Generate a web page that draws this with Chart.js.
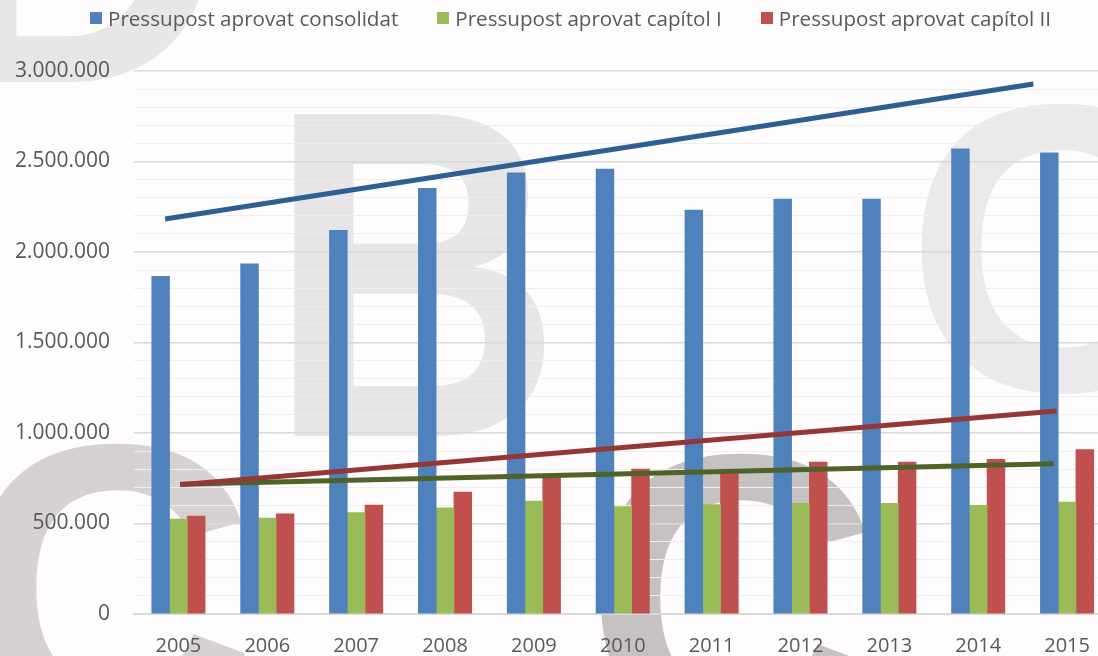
<!DOCTYPE html>
<html>
<head>
<meta charset="utf-8">
<script src="https://cdn.jsdelivr.net/npm/chart.js@4/dist/chart.umd.min.js"></script>
<style>
  html, body { margin: 0; padding: 0; background: #fefcfc; overflow: hidden; }
  #wrap { width: 1098px; height: 656px; overflow: hidden; position: relative; }
  #box { width: 1120px; height: 656px; position: absolute; left: 0; top: 0; }
  #legend { position: absolute; left: 90px; top: 0; height: 36px; display: flex; align-items: center;
            font-family: "Open Sans", "Noto Sans", sans-serif; font-size: 20.6px; color: #595959; white-space: nowrap; }
  .item { display: flex; align-items: center; margin-right: 39px; }
  .sw { width: 12px; height: 12px; margin-right: 6px; }
</style>
</head>
<body>
<div id="wrap">
  <div id="box"><canvas id="budgetChart"></canvas></div>
  <div id="legend"></div>
</div>
<script>
const years = ['2005', '2006', '2007', '2008', '2009', '2010', '2011', '2012', '2013', '2014', '2015'];

const consolidat = [1865000, 1935000, 2120000, 2352000, 2437000, 2458000, 2232000, 2293000, 2293000, 2570000, 2548000];
const capitolI  = [525000, 530000, 560000, 586000, 624000, 594000, 604000, 612000, 612000, 601000, 619000];
const capitolII = [541000, 554000, 602000, 674000, 762000, 801000, 790000, 840000, 840000, 855000, 908000];

// hand-drawn trend lines (x in category index units)
const trendBlueX = [-0.15, 9.62];
const trendBlueY = [2182000, 2928000];
const trendRedX = [0.02, 9.88];
const trendRedY = [714000, 1121000];
const trendGreenX = [0.02, 9.85];
const trendGreenY = [717000, 830000];

const seriesNames = ['Pressupost aprovat consolidat', 'Pressupost aprovat capítol I', 'Pressupost aprovat capítol II'];
const seriesColors = ['#4f81bd', '#9bbb59', '#c0504d'];

const yTicks = { min: 0, max: 3000000, step: 100000, labelStep: 500000 };

const textColor = '#595959';
const fontFamily = '"Open Sans", "Noto Sans", sans-serif';

// each bar series sits on its own hidden index axis, shifted by one bar width
const barShare = 0.2;   // one bar = 0.2 of a category
const barPx = 17.8;

function toPoints(xs, ys) {
    return xs.map((x, i) => ({ x: x, y: ys[i] }));
}

function indexed(values) {
    return values.map((v, i) => ({ x: i, y: v }));
}

function fmt(v) {
    return v.toString().replace(/\B(?=(\d{3})+(?!\d))/g, '.');
}

// legend as html
const legendBox = document.getElementById('legend');
seriesNames.forEach((name, i) => {
    const div = document.createElement('div');
    div.className = 'item';
    div.innerHTML = `<span class="sw" style="background:${seriesColors[i]}"></span><span>${name}</span>`;
    legendBox.appendChild(div);
});

// grey letters in the background
const watermark = {
    id: 'watermark',
    beforeDraw(chart) {
        const c = chart.ctx;
        c.save();
        c.fillStyle = '#fefcfc';
        c.fillRect(0, 0, chart.width, chart.height);
        c.textBaseline = 'alphabetic';

        c.save();
        c.translate(267, 436);
        c.scale(0.875, 1);
        c.font = 'bold 468px "Liberation Sans"';
        c.fillStyle = '#e7e5e5';
        c.fillText('B', 0, 0);
        c.restore();

        c.font = 'bold 410px "Liberation Sans"';
        c.fillStyle = '#ebe9e9';
        c.fillText('C', 905, 390);
        c.fillStyle = '#e8e6e6';
        c.fillText('D', -70, 82);
        c.fillStyle = '#d6d2d2';
        c.fillText('C', -40, 730);
        c.fillStyle = '#c6c2c2';
        c.fillText('C', 584, 740);
        c.restore();
    }
};

function barSeries(i, values) {
    return {
        type: 'bar', label: seriesNames[i], data: indexed(values), xAxisID: 'xb' + i,
        backgroundColor: seriesColors[i], grouped: false, barThickness: barPx, order: 2
    };
}

function trendLine(name, xs, ys, color) {
    return {
        type: 'line', label: name, data: toPoints(xs, ys), xAxisID: 'xl',
        borderColor: color, borderWidth: 5, pointRadius: 0, order: 1
    };
}

function hiddenAxis(shift) {
    return { type: 'linear', display: false, offset: false, min: -0.5 - shift, max: years.length - 0.5 - shift };
}

const ctx = document.getElementById('budgetChart').getContext('2d');
const budgetChart = new Chart(ctx, {
    data: {
        labels: years,
        datasets: [
            barSeries(0, consolidat),
            barSeries(1, capitolI),
            barSeries(2, capitolII),
            trendLine('trend1', trendBlueX, trendBlueY, '#2e5f94'),
            trendLine('trend2', trendRedX, trendRedY, '#953735'),
            trendLine('trend3', trendGreenX, trendGreenY, '#4f6228')
        ]
    },
    options: {
        responsive: true,
        maintainAspectRatio: false,
        animation: false,
        layout: { padding: { top: 71, right: 8.5, bottom: 0, left: 0 } },
        plugins: {
            tooltip: { enabled: false },
            legend: { display: false }
        },
        scales: {
            x: {
                type: 'category',
                offset: true,
                grid: { display: false },
                border: { display: true, color: '#d9d9d9', width: 2 },
                ticks: { color: textColor, font: { family: fontFamily, size: 20 }, padding: 12 },
                afterFit: s => { s.height = 42; }
            },
            xb0: hiddenAxis(-barShare),
            xb1: hiddenAxis(0),
            xb2: hiddenAxis(barShare),
            xl: hiddenAxis(0),
            y: {
                min: yTicks.min,
                max: yTicks.max,
                border: { display: false },
                grid: {
                    drawTicks: false,
                    color: t => (t.tick.value % yTicks.labelStep === 0 ? '#d9d9d9' : '#eeeeee'),
                    lineWidth: t => (t.tick.value % yTicks.labelStep === 0 ? 1.5 : 1)
                },
                ticks: {
                    stepSize: yTicks.step,
                    autoSkip: false,
                    color: textColor,
                    font: { family: fontFamily, size: 21 },
                    padding: 24,
                    callback: v => (v % yTicks.labelStep === 0 ? fmt(v) : '')
                },
                afterFit: s => { s.width = 134; }
            }
        }
    },
    plugins: [watermark]
});
</script>
</body>
</html>
